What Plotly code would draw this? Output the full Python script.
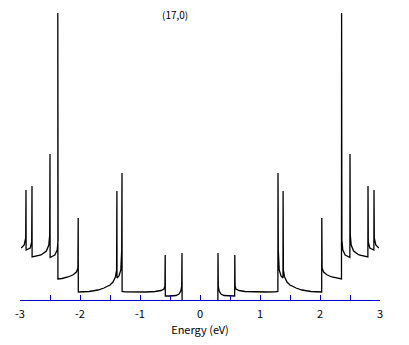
import plotly.graph_objects as go

title_text = "(17,0)"
x_title = "Energy (eV)"
tick_values = [-3, -2, -1, 0, 1, 2, 3]
tick_labels = ["-3", "-2", "-1", "0", "1", "2", "3"]

# Energy (eV) and density of states (arbitrary units)
energy_neg = [-2.98, -2.93, -2.905, -2.90, -2.898, -2.83, -2.805, -2.80, -2.798,
              -2.65, -2.56, -2.52, -2.505, -2.50, -2.498, -2.42, -2.38, -2.365,
              -2.37, -2.368, -2.30, -2.20, -2.12, -2.06, -2.035, -2.03, -2.028,
              -1.85, -1.70, -1.60, -1.50, -1.45, -1.41, -1.39, -1.385, -1.383,
              -1.35, -1.32, -1.305, -1.30, -1.298, -1.25, -1.10, -0.90, -0.75,
              -0.65, -0.60, -0.585, -0.58, -0.578, -0.50, -0.40, -0.35, -0.32,
              -0.305, -0.30, -0.298]
dos_neg = [52, 55, 62, 110, 50, 52, 58, 114, 43,
           45, 49, 55, 65, 146, 42.5, 45, 50, 60,
           287, 21, 21.5, 23, 25, 28, 32, 82, 8,
           8.5, 10, 12, 15, 18, 23, 30, 109, 22,
           24, 30, 50, 127, 8.5, 8.2, 8, 8, 8.5,
           9.5, 11, 14, 45, 4, 4, 4.5, 6, 9,
           14, 47, 0]

# the gap (zero density) lies on the axis line itself: leave it undrawn
energy_mid = [0.0]
dos_mid = [None]

energy_pos = [0.298, 0.30, 0.305, 0.32, 0.35, 0.40, 0.50, 0.578, 0.58,
              0.585, 0.60, 0.65, 0.75, 0.90, 1.10, 1.25, 1.298, 1.30,
              1.305, 1.32, 1.35, 1.383, 1.385, 1.39, 1.41, 1.45, 1.50,
              1.60, 1.70, 1.85, 2.028, 2.03, 2.035, 2.06, 2.12, 2.20,
              2.30, 2.358, 2.36, 2.365, 2.38, 2.42, 2.498, 2.50, 2.505,
              2.52, 2.56, 2.65, 2.798, 2.80, 2.805, 2.83, 2.898, 2.90,
              2.905, 2.93, 2.98]
dos_pos = [0, 47, 14, 9, 6, 4.5, 4, 4, 45,
           14, 11, 9.5, 8.5, 8, 8, 8.2, 8.5, 127,
           50, 30, 24, 22, 109, 30, 23, 18, 15,
           12, 10, 8.5, 8, 82, 32, 28, 25, 23,
           21.5, 21, 287, 60, 50, 45, 42.5, 146, 65,
           55, 49, 45, 43, 114, 58, 52, 50, 110,
           62, 55, 52]

energy = energy_neg + energy_mid + energy_pos
dos = dos_neg + dos_mid + dos_pos

blue = "#0000cc"
font_family = "Noto Sans CJK JP, DejaVu Sans, sans-serif"

fig = go.Figure()
fig.add_trace(go.Scatter(x=energy, y=dos, mode="lines",
                         line=dict(color="black", width=1.3),
                         connectgaps=False,
                         hoverinfo="skip", showlegend=False))

fig.update_layout(
    width=401, height=337,
    margin=dict(l=12, r=29, t=0, b=45, autoexpand=False),
    paper_bgcolor="white", plot_bgcolor="white",
    font=dict(family=font_family, size=11, color="black"),
    xaxis=dict(range=[-3, 3], showgrid=False, zeroline=False,
               showline=True, linecolor=blue, linewidth=1,
               ticks="inside", ticklen=5, tickcolor=blue, tickwidth=1,
               tickvals=tick_values, ticktext=tick_labels,
               tickfont=dict(size=11, color="black"),
               ticklabelstandoff=4,
               minor=dict(dtick=0.5, ticks="inside", ticklen=5,
                          tickcolor=blue, tickwidth=1, showgrid=False),
               title=dict(text=x_title, font=dict(size=11, color="black"),
                          standoff=6)),
    yaxis=dict(range=[0, 292], visible=False, showgrid=False, zeroline=False),
    annotations=[dict(text=title_text, x=0.43, y=1, xref="paper", yref="paper",
                      xanchor="center", yanchor="top", yshift=2, borderpad=0,
                      showarrow=False, font=dict(size=10, color="black"))],
)

fig.write_html("out.html")
